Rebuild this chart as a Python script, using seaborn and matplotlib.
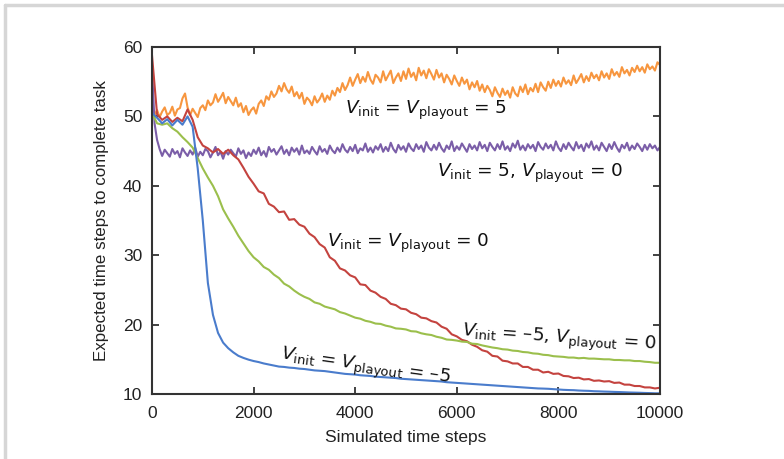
import numpy as np
import pandas as pd
import matplotlib
matplotlib.use("Agg")
import matplotlib.pyplot as plt
from matplotlib.lines import Line2D
import seaborn as sns

# ---------------- data ----------------
steps_coarse = list(range(0, 10001, 100))   # for blue / green / red
steps_fine = list(range(0, 10001, 50))      # for orange / purple

blue_vals = [
    50.5, 49.8, 49.0, 49.6, 48.7, 49.5, 48.8, 50.0, 48.5, 42.5,
    35.0, 26.0, 21.4, 18.8, 17.4, 16.6, 16.0, 15.5, 15.2, 14.95,
    14.75, 14.6, 14.4, 14.25, 14.1, 13.95, 13.9, 13.8, 13.75, 13.65,
    13.6, 13.5, 13.4, 13.35, 13.3, 13.2, 13.1, 13.0, 12.9, 12.85,
    12.8, 12.7, 12.65, 12.6, 12.5, 12.45, 12.4, 12.35, 12.3, 12.2,
    12.15, 12.1, 12.05, 12.0, 11.95, 11.9, 11.85, 11.8, 11.7, 11.65,
    11.6, 11.55, 11.5, 11.45, 11.4, 11.35, 11.3, 11.25, 11.2, 11.15,
    11.1, 11.05, 11.0, 10.95, 10.9, 10.85, 10.8, 10.78, 10.75, 10.7,
    10.65, 10.6, 10.57, 10.55, 10.5, 10.47, 10.45, 10.4, 10.38, 10.35,
    10.33, 10.3, 10.28, 10.25, 10.22, 10.2, 10.18, 10.15, 10.13, 10.1,
    10.1,
]

green_vals = [
    50.5, 49.0, 48.8, 49.0, 48.3, 47.8, 47.0, 46.3, 45.5, 44.0,
    42.5, 41.2, 40.0, 38.5, 36.6, 35.3, 34.1, 32.8, 31.7, 30.6,
    29.7, 29.1, 28.3, 27.9, 27.2, 26.7, 25.9, 25.5, 24.9, 24.4,
    24.0, 23.7, 23.2, 23.0, 22.6, 22.4, 22.2, 21.8, 21.6, 21.3,
    21.0, 20.85, 20.55, 20.4, 20.15, 20.1, 19.85, 19.7, 19.45, 19.4,
    19.3, 19.05, 19.0, 18.75, 18.6, 18.5, 18.25, 18.1, 17.85, 17.8,
    17.7, 17.55, 17.5, 17.25, 17.2, 17.0, 16.85, 16.7, 16.6, 16.45,
    16.4, 16.25, 16.2, 16.05, 16.0, 15.85, 15.8, 15.65, 15.6, 15.45,
    15.4, 15.35, 15.25, 15.25, 15.15, 15.2, 15.1, 15.1, 15.05, 15.0,
    15.0, 14.9, 14.9, 14.85, 14.85, 14.75, 14.75, 14.65, 14.6, 14.5,
    14.5,
]

red_vals = [
    58.8, 50.3, 49.5, 50.0, 49.2, 49.8, 49.3, 51.0, 49.5, 47.0,
    45.8, 45.4, 44.8, 45.3, 44.6, 45.2, 44.4, 43.8, 42.6, 41.3,
    40.3, 39.2, 38.9, 37.4, 37.0, 36.2, 36.3, 35.1, 35.2, 34.4,
    34.1, 33.1, 32.6, 31.6, 31.1, 29.7, 29.2, 28.1, 27.8, 27.1,
    26.8, 25.8, 25.7, 24.9, 24.6, 24.0, 23.7, 23.0, 22.8, 22.3,
    22.2, 21.7, 21.5, 21.0, 20.9, 20.5, 20.3, 19.7, 19.4, 18.6,
    18.3, 17.8, 17.6, 17.1, 16.8, 16.3, 16.1, 15.5, 15.4, 14.8,
    14.7, 14.4, 14.4, 13.9, 13.9, 13.5, 13.5, 13.1, 13.2, 12.9,
    12.95, 12.6, 12.55, 12.3, 12.35, 12.1, 12.15, 11.9, 11.95, 11.8,
    11.85, 11.6, 11.65, 11.35, 11.35, 11.15, 11.15, 10.95, 10.95, 10.8,
    10.9,
]

orange_vals = [
    51.0, 50.2, 50.9, 49.9, 50.7, 51.3, 50.2, 50.5, 51.4, 50.1,
    51.0, 51.2, 52.6, 53.3, 51.3, 50.2, 51.1, 50.5, 49.9, 51.2,
    51.6, 50.9, 52.3, 51.6, 52.0, 53.2, 52.1, 52.7, 53.4, 51.9,
    52.8, 52.2, 51.6, 52.7, 51.4, 51.9, 50.6, 51.5, 50.2, 50.9,
    51.3, 50.4, 51.8, 52.3, 51.5, 52.9, 52.4, 53.6, 52.8, 53.3,
    54.4, 53.6, 54.8, 53.9, 53.4, 54.3, 52.9, 53.5, 52.6, 53.4,
    51.8, 52.7, 52.3, 51.6, 52.9, 52.0, 52.5, 53.3, 52.1, 53.0,
    52.4, 53.7, 53.0, 54.1, 53.5, 54.8, 53.8, 54.5, 55.6, 54.4,
    55.3, 56.1, 54.8, 55.7, 55.0, 56.4, 55.3, 54.7, 56.0, 55.6,
    54.9, 56.5, 55.2, 55.9, 56.6, 54.8, 55.6, 56.2, 55.1, 56.5,
    55.4, 56.9, 55.7, 56.3, 55.2, 57.0, 55.9, 56.6, 55.5, 56.8,
    56.1, 55.3, 56.7, 55.6, 56.2, 54.9, 56.0, 55.4, 54.6, 55.9,
    55.1, 54.4, 55.6, 54.7, 55.3, 53.9, 54.9, 54.2, 55.1, 53.7,
    54.6, 53.5, 54.4, 53.8, 52.9, 54.2, 53.4, 52.8, 54.0, 53.1,
    53.7, 52.7, 54.2, 53.3, 52.9, 54.3, 53.5, 54.6, 53.2, 54.1,
    53.6, 54.7, 53.5, 54.9, 54.2, 53.7, 55.0, 54.1, 55.3, 54.4,
    55.1, 54.3, 55.6, 54.7, 55.2, 54.5, 55.9, 54.8, 55.4, 56.1,
    54.9, 55.8, 55.1, 56.3, 55.5, 56.0, 55.2, 56.5, 55.6, 56.2,
    55.4, 56.8, 55.9, 56.4, 55.7, 57.1, 56.2, 56.7, 55.9, 57.0,
    56.4, 57.3, 56.5, 57.1, 56.3, 57.5, 56.8, 57.2, 56.6, 57.8,
    57.4,
]

purple_vals = [
    57.0, 49.0, 46.6, 45.3, 44.3, 45.2, 44.7, 44.2, 45.3, 44.6,
    45.0, 44.1, 45.4, 44.8, 44.3, 45.1, 44.5, 45.5, 44.2, 44.9,
    44.4, 45.3, 45.0, 44.1, 44.8, 45.6, 44.4, 44.9, 43.9, 45.0,
    44.5, 45.2, 44.7, 44.2, 45.4, 44.6, 45.1, 44.0, 44.8, 44.3,
    45.2, 44.6, 45.5, 44.4, 45.0, 44.2, 45.6, 44.9, 45.3, 44.5,
    45.1, 45.7, 44.6, 45.2, 44.4, 45.5, 44.9, 45.4, 44.5, 45.8,
    44.7, 45.1, 44.6, 45.6, 45.0, 44.5, 45.7, 44.9, 45.3, 44.6,
    45.8, 45.1, 44.7, 45.5, 44.9, 46.0, 45.2, 44.8, 45.6, 45.0,
    45.9, 44.7, 45.4, 45.1, 46.1, 44.9, 45.5, 44.8, 45.7, 45.2,
    46.0, 44.9, 45.6, 45.0, 46.2, 45.3, 44.8, 45.9, 45.2, 45.7,
    44.9, 46.1, 45.4, 45.0, 46.0, 45.3, 45.8, 44.9, 46.3, 45.5,
    45.1, 45.9, 45.2, 46.2, 45.4, 44.9, 45.8, 45.3, 46.4, 45.0,
    45.7, 45.2, 46.1, 45.5, 44.9, 46.0, 45.3, 45.8, 45.1, 46.3,
    45.4, 45.9, 45.0, 46.2, 45.6, 45.1, 46.0, 45.3, 46.4, 45.2,
    45.7, 45.0, 46.1, 45.5, 46.5, 45.2, 45.8, 45.1, 46.0, 45.4,
    45.9, 45.0, 46.3, 45.6, 45.2, 46.1, 45.4, 45.9, 45.1, 46.4,
    45.5, 45.0, 46.0, 45.3, 46.2, 45.6, 45.1, 46.3, 45.4, 45.9,
    45.0, 46.1, 45.5, 46.4, 45.2, 45.8, 45.1, 46.2, 45.6, 45.0,
    46.0, 45.3, 46.3, 45.5, 44.9, 45.9, 45.4, 46.2, 45.1, 45.8,
    45.3, 46.1, 45.6, 45.0, 45.9, 45.2, 46.0, 45.4, 45.8, 45.1,
    45.6,
]

x_ticks = [0, 2000, 4000, 6000, 8000, 10000]
y_ticks = [10, 20, 30, 40, 50, 60]
x_label = "Simulated time steps"
y_label = "Expected time steps to complete task"

# ---------------- styling ----------------
sns.set_style("ticks")
plt.rcParams["font.family"] = ["Liberation Sans", "DejaVu Sans"]
plt.rcParams["mathtext.fontset"] = "dejavusans"

col_blue = "#4a7ccc"
col_green = "#9bbf4c"
col_red = "#c4433f"
col_orange = "#f7963f"
col_purple = "#7b5ea8"

fig = plt.figure(figsize=(7.84, 4.59), dpi=100)
ax = fig.add_axes([152 / 784, 1 - 394 / 459, (660 - 152) / 784, (394 - 47) / 459])

lw = 1.5
sns.lineplot(x=steps_fine, y=orange_vals, ax=ax, color=col_orange, lw=lw)
sns.lineplot(x=steps_fine, y=purple_vals, ax=ax, color=col_purple, lw=lw)
sns.lineplot(x=steps_coarse, y=red_vals, ax=ax, color=col_red, lw=lw)
sns.lineplot(x=steps_coarse, y=green_vals, ax=ax, color=col_green, lw=lw)
sns.lineplot(x=steps_coarse, y=blue_vals, ax=ax, color=col_blue, lw=lw)

ax.set_xlim(0, 10000)
ax.set_ylim(10, 60)
ax.set_xticks(x_ticks)
ax.set_yticks(y_ticks)
ax.set_xticklabels([str(t) for t in x_ticks])
ax.set_yticklabels([str(t) for t in y_ticks])
ax.tick_params(axis="both", direction="in", top=True, right=True, length=5, width=1.3,
               color="#333333", labelsize=12.5, labelcolor="#222222")
ax.tick_params(axis="x", pad=9)
ax.tick_params(axis="y", pad=7)
for s in ax.spines.values():
    s.set_color("#333333")
    s.set_linewidth(1.5)

ax.set_xlabel(x_label, fontsize=12.5, color="#222222", labelpad=6)
ax.set_ylabel(y_label, fontsize=12.2, color="#222222", labelpad=10)

# annotations
tkw = dict(fontsize=13.3, color="#111111", family="DejaVu Sans")
ax.text(3800, 50.9, r"$V_{\rm init}$ = $V_{\rm playout}$ = 5", va="center", ha="left", **tkw)
ax.text(5610, 41.8, r"$V_{\rm init}$ = 5, $V_{\rm playout}$ = 0", va="center", ha="left", **tkw)
ax.text(3450, 31.7, r"$V_{\rm init}$ = $V_{\rm playout}$ = 0", va="center", ha="left", **tkw)
ax.text(6100, 18.8, r"$V_{\rm init}$ = –5, $V_{\rm playout}$ = 0", va="center", ha="left",
        rotation=-4, rotation_mode="anchor", **tkw)
ax.text(2540, 15.6, r"$V_{\rm init}$ = $V_{\rm playout}$ = –5", va="center", ha="left",
        rotation=-8, rotation_mode="anchor", **tkw)

# light gray frame lines at top and left of the figure
fig.add_artist(Line2D([5 / 784, 1.0], [1 - 5 / 459, 1 - 5 / 459], color="#d6d6d6", lw=2.5,
                      transform=fig.transFigure))
fig.add_artist(Line2D([5 / 784, 5 / 784], [0.0, 1 - 5 / 459], color="#d6d6d6", lw=2.5,
                      transform=fig.transFigure))

fig.savefig("out.png", dpi=100)
